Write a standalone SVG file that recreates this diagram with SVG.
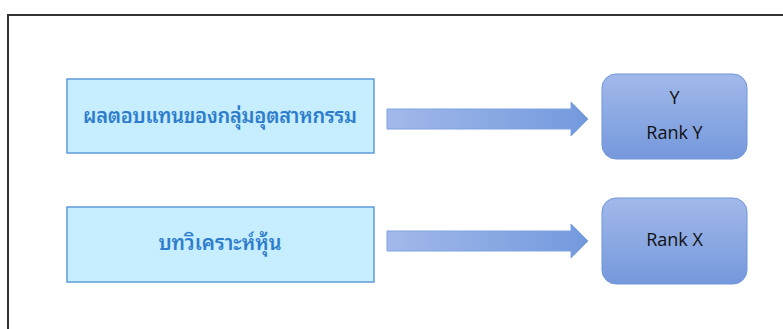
<svg xmlns="http://www.w3.org/2000/svg" width="783" height="329" viewBox="0 0 783 329">
<defs>
<linearGradient id="gv" x1="0" y1="0" x2="0" y2="1"><stop offset="0" stop-color="#A2B9EA"/><stop offset="1" stop-color="#7598DC"/></linearGradient>
<linearGradient id="gh" x1="0" y1="0" x2="1" y2="0"><stop offset="0" stop-color="#A2B9EA"/><stop offset="1" stop-color="#7399DD"/></linearGradient>
<style>
.th{fill:#C6EEFE;stroke:#5D9BDA;stroke-width:1.5}
.thtxt{font-family:"Noto Sans Thai Looped","Noto Sans Thai","Noto Sans",sans-serif;font-size:20px;font-weight:600;fill:#2E7DCC;text-anchor:middle}
.rb{fill:url(#gv);stroke:#7196DA;stroke-width:1}
.rt{font-family:"Open Sans","Liberation Sans",sans-serif;font-size:18px;fill:#111;text-anchor:middle}
.ar{fill:url(#gh);stroke:#7FA3E0;stroke-width:1}
</style>
</defs>
<rect width="783" height="329" fill="#fff"/>
<path d="M8 329 V15 H783" fill="none" stroke="#333" stroke-width="2"/>
<g id="n1"><rect class="th" x="67" y="79" width="307" height="74"/><text class="thtxt" x="220" y="123" textLength="274" lengthAdjust="spacing">ผลตอบแทนของกลุ่มอุตสาหกรรม</text></g>
<g id="n2"><rect class="th" x="67" y="207" width="307" height="75"/><text class="thtxt" x="220" y="250">บทวิเคราะห์หุ้น</text></g>
<g id="n3"><rect class="rb" x="602" y="74" width="145" height="85" rx="14"/><text class="rt" x="674.5" y="104">Y</text><text class="rt" x="674.5" y="139">Rank Y</text></g>
<g id="n4"><rect class="rb" x="602" y="198" width="145" height="86" rx="14"/><text class="rt" x="674.5" y="246">Rank X</text></g>
<g id="connectors">
<path class="ar" d="M387 109 H571 V102 L588 119 L571 136 V129 H387 Z"/>
<path class="ar" d="M387 231 H571 V224 L588 241 L571 258 V251 H387 Z"/>
</g>
</svg>
